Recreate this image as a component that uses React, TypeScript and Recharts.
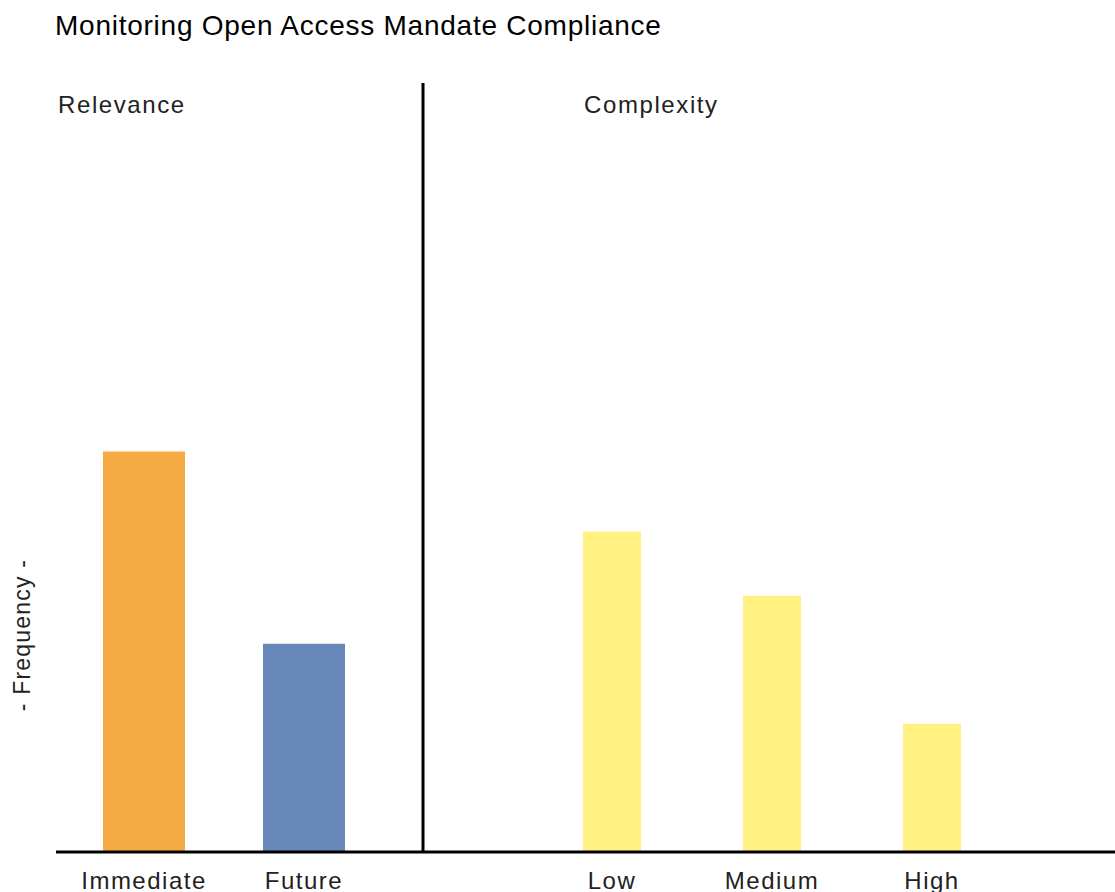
import { BarChart, Bar, XAxis, YAxis, Cell } from "recharts";

const relevanceCats = ["Immediate", "Future"];
const relevanceVals = [25, 13];
const relevanceColors = ["#F5AB44", "#6887B9"];

const complexityCats = ["Low", "Medium", "High"];
const complexityVals = [20, 16, 8];
const complexityColor = "#FFF282";

const FONT = "'Liberation Sans', Arial, sans-serif";

function CatTick({ x, y, payload }: any) {
  return (
    <text
      x={x}
      y={y + 37}
      textAnchor="middle"
      fontFamily={FONT}
      fontSize={24}
      letterSpacing={1.5}
      fill="#222"
    >
      {payload.value}
    </text>
  );
}

export default function App() {
  const relData = relevanceCats.map((c, i) => ({ name: c, value: relevanceVals[i] }));
  const cxData = complexityCats.map((c, i) => ({ name: c, value: complexityVals[i] }));

  return (
    <div style={{ position: "absolute", left: 0, top: 0, width: 1115, height: 892, background: "#fff", fontFamily: FONT, overflow: "hidden" }}>
      <div style={{ position: "absolute", left: 55, top: 12, fontSize: 28, lineHeight: 1, color: "#000", whiteSpace: "nowrap", letterSpacing: 0.75 }}>
        Monitoring Open Access Mandate Compliance
      </div>
      <div style={{ position: "absolute", left: 58, top: 93, fontSize: 24, lineHeight: 1, color: "#222", letterSpacing: 1.6 }}>Relevance</div>
      <div style={{ position: "absolute", left: 584, top: 93, fontSize: 24, lineHeight: 1, color: "#222", letterSpacing: 1.6 }}>Complexity</div>
      <div
        style={{
          position: "absolute", left: 22, top: 635, fontSize: 23, color: "#222", letterSpacing: 1.2,
          whiteSpace: "nowrap", transform: "translate(-50%, -50%) rotate(-90deg)",
        }}
      >
        - Frequency -
      </div>

      <div style={{ position: "absolute", left: 0, top: 0 }}>
        <BarChart width={423} height={892} data={relData} margin={{ top: 83, right: 0, bottom: 0, left: 56 }}>
          <XAxis
            dataKey="name"
            height={40}
            padding={{ left: 8, right: 39 }}
            axisLine={{ stroke: "#000", strokeWidth: 3 }}
            tickLine={false}
            tickSize={0}
            tickMargin={0}
            tick={<CatTick />}
          />
          <YAxis hide domain={[0, 48]} />
          <Bar dataKey="value" barSize={82} isAnimationActive={false}>
            {relData.map((d, i) => (
              <Cell key={d.name} fill={relevanceColors[i]} />
            ))}
          </Bar>
        </BarChart>
      </div>

      <div style={{ position: "absolute", left: 413, top: 0 }}>
        <BarChart width={702} height={892} data={cxData} margin={{ top: 83, right: 0, bottom: 0, left: 0 }}>
          <XAxis
            dataKey="name"
            height={40}
            padding={{ left: 109, right: 103 }}
            axisLine={{ stroke: "#000", strokeWidth: 3 }}
            tickLine={false}
            tickSize={0}
            tickMargin={0}
            tick={<CatTick />}
          />
          <YAxis
            width={10}
            domain={[0, 48]}
            tick={false}
            tickLine={false}
            axisLine={{ stroke: "#000", strokeWidth: 3 }}
          />
          <Bar dataKey="value" barSize={58} fill={complexityColor} isAnimationActive={false} />
        </BarChart>
      </div>
    </div>
  );
}
